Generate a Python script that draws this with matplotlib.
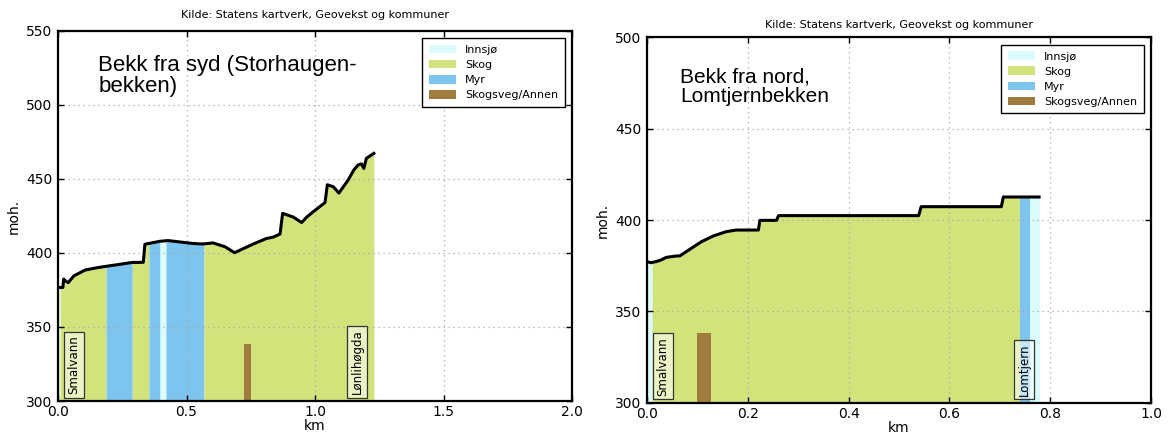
import numpy as np
import matplotlib
matplotlib.use("Agg")
import matplotlib.pyplot as plt
from matplotlib.patches import Patch

plt.rcParams['font.family'] = ['DejaVu Sans']

# ---------------- data ----------------
source_title = "Kilde: Statens kartverk, Geovekst og kommuner"
legend_labels = ["Innsjø", "Skog", "Myr", "Skogsveg/Annen"]
class_colors = {"Innsjø": "#dcfbfd", "Skog": "#d3e37c", "Myr": "#7dc4ee",
                "Skogsveg/Annen": "#a07b3e"}

# Left: Bekk fra syd (Storhaugen-bekken)
syd_km = [0.0, 0.019, 0.022, 0.03, 0.04, 0.062, 0.106, 0.15, 0.187, 0.251, 0.287,
          0.332, 0.338, 0.396, 0.428, 0.527, 0.564, 0.603, 0.65, 0.687, 0.759, 0.811,
          0.837, 0.864, 0.874, 0.915, 0.948, 0.968, 1.0, 1.039, 1.048, 1.071, 1.093,
          1.129, 1.151, 1.168, 1.181, 1.19, 1.2, 1.229]
syd_moh = [376.7, 376.7, 382.4, 381.0, 380.0, 384.6, 388.5, 390.0, 391.0, 392.6, 393.6,
           393.7, 405.9, 407.9, 408.4, 406.4, 406.1, 406.8, 404.2, 400.2, 406.0, 409.8,
           410.7, 412.8, 426.8, 424.3, 420.6, 424.3, 428.8, 434.1, 446.1, 444.8, 440.5,
           449.3, 456.1, 459.5, 460.2, 457.2, 464.0, 467.3]
syd_seg_start = [0.0, 0.008, 0.187, 0.289, 0.354, 0.397, 0.420, 0.568]
syd_seg_end = [0.008, 0.187, 0.289, 0.354, 0.397, 0.420, 0.568, 1.229]
syd_seg_class = ["Innsjø", "Skog", "Myr", "Skog", "Myr", "Innsjø", "Myr", "Skog"]
syd_road_start = [0.723]
syd_road_end = [0.752]
syd_road_top = [338.5]
syd_names = ["Smalvann", "Lønlihøgda"]
syd_name_km = [0.061, 1.163]

# Right: Bekk fra nord, Lomtjernbekken
nord_km = [0.0, 0.008, 0.018, 0.028, 0.038, 0.048, 0.058, 0.065, 0.071, 0.088, 0.108,
           0.131, 0.157, 0.177, 0.221, 0.224, 0.257, 0.261, 0.539, 0.544, 0.703, 0.707,
           0.778]
nord_moh = [377.2, 376.6, 377.2, 378.1, 379.5, 379.9, 380.3, 380.3, 381.4, 384.5, 388.1,
            391.2, 393.6, 394.5, 394.5, 399.8, 399.8, 402.4, 402.4, 407.3, 407.3, 412.6,
            412.6]
nord_seg_start = [0.0, 0.010, 0.740, 0.759]
nord_seg_end = [0.010, 0.740, 0.759, 0.779]
nord_seg_class = ["Innsjø", "Skog", "Myr", "Innsjø"]
nord_road_start = [0.099]
nord_road_end = [0.127]
nord_road_top = [338.2]
nord_names = ["Smalvann", "Lomtjern"]
nord_name_km = [0.031, 0.748]


def draw_panel(ax, km, moh, s0, s1, cls, r0, r1, rtop, names, name_km,
               xlim, ylim, xticks, yticks, heading, head_xy, head_size, name_y):
    km = np.asarray(km, float)
    moh = np.asarray(moh, float)
    for a, b, c in zip(s0, s1, cls):
        inner = km[(km > a) & (km < b)]
        xs = np.concatenate([[a], inner, [b]])
        ys = np.interp(xs, km, moh)
        ax.fill_between(xs, ylim[0], ys, color=class_colors[c], lw=0, zorder=1)
    for a, b, t in zip(r0, r1, rtop):
        ax.bar((a + b) / 2, t - ylim[0], width=b - a, bottom=ylim[0],
               color=class_colors["Skogsveg/Annen"], lw=0, zorder=1.2)
    ax.plot(km, moh, color="black", lw=2.2, zorder=3, solid_joinstyle="round")
    for n, x in zip(names, name_km):
        ax.text(x, name_y, n, rotation=90, ha="center", va="bottom", fontsize=8.5,
                zorder=4,
                bbox=dict(boxstyle="square,pad=0.3", facecolor=(1, 1, 1, 0.55),
                          edgecolor="#333333", lw=0.9))
    ax.text(head_xy[0], head_xy[1], heading, ha="left", va="top", fontsize=head_size,
            family=["Liberation Sans", "DejaVu Sans"], linespacing=1.05, zorder=4)
    ax.set_xlim(*xlim)
    ax.set_ylim(*ylim)
    ax.set_xticks(xticks)
    ax.set_yticks(yticks)
    ax.set_xticklabels([f"{v:.1f}" for v in xticks])
    ax.set_yticklabels([f"{v:d}" for v in yticks])
    ax.tick_params(direction="in", top=True, right=True, length=4, width=1,
                   labelsize=10)
    ax.tick_params(axis="x", pad=3)
    ax.tick_params(axis="y", pad=4)
    ax.grid(True, color="#a8a8a8", linestyle=(0, (1, 3)), lw=0.9, zorder=1.5)
    for sp in ax.spines.values():
        sp.set_linewidth(1.6)
        sp.set_zorder(5)
    ax.set_xlabel("km", fontsize=10, labelpad=0)
    ax.set_ylabel("moh.", fontsize=10)
    handles = [Patch(facecolor=class_colors[l], edgecolor="none") for l in legend_labels]
    leg = ax.legend(handles, legend_labels, loc="upper right", fontsize=8,
                    fancybox=False, framealpha=1, edgecolor="black",
                    handlelength=2.4, handleheight=0.8, handletextpad=0.85,
                    labelspacing=0.45, borderpad=0.6, borderaxespad=0.65)
    leg.get_frame().set_linewidth(1.0)
    leg.set_zorder(6)


fig = plt.figure(figsize=(11.68, 4.36), dpi=100)
axL = fig.add_axes([58 / 1168, 35 / 436, 514 / 1168, 370 / 436])
axR = fig.add_axes([647 / 1168, 33.5 / 436, 504 / 1168, 365 / 436])

draw_panel(axL, syd_km, syd_moh, syd_seg_start, syd_seg_end, syd_seg_class,
           syd_road_start, syd_road_end, syd_road_top, syd_names, syd_name_km,
           (0, 2.0), (300, 550), [0.0, 0.5, 1.0, 1.5, 2.0],
           [300, 350, 400, 450, 500, 550],
           "Bekk fra syd (Storhaugen-\nbekken)", (0.157, 534), 16, 304.5)
axL.set_title(source_title, fontsize=8, pad=9.5)

draw_panel(axR, nord_km, nord_moh, nord_seg_start, nord_seg_end, nord_seg_class,
           nord_road_start, nord_road_end, nord_road_top, nord_names, nord_name_km,
           (0, 1.0), (300, 500), [0.0, 0.2, 0.4, 0.6, 0.8, 1.0],
           [300, 350, 400, 450, 500],
           "Bekk fra nord,\nLomtjernbekken", (0.066, 483.5), 15, 303.8)
axR.set_title(source_title, fontsize=8, pad=7)

fig.savefig("out.png", dpi=100)
